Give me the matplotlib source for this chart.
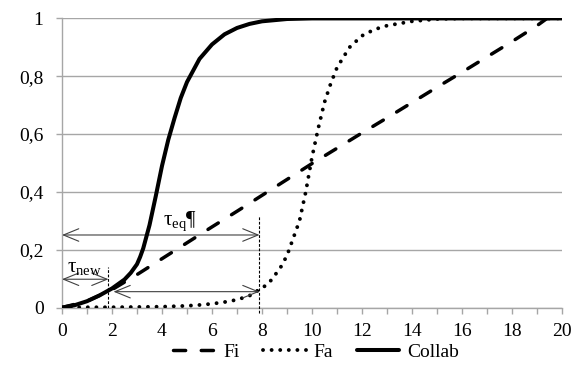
import matplotlib
matplotlib.use("Agg")
import matplotlib.pyplot as plt
from matplotlib.ticker import FuncFormatter, MultipleLocator

plt.rcParams["font.family"] = ["Liberation Serif", "DejaVu Serif"]
plt.rcParams["mathtext.fontset"] = "custom"
plt.rcParams["mathtext.rm"] = "Liberation Serif"
plt.rcParams["mathtext.it"] = "Liberation Serif"

# values
fi_t = [0, 1, 2, 3, 4, 5, 6, 7, 8, 9, 10, 11, 12, 13, 14, 15, 16, 17, 18, 19, 19.4, 20]
fi = [0, 0.022, 0.062, 0.114, 0.169, 0.224, 0.279, 0.333, 0.388, 0.443, 0.498,
      0.551, 0.604, 0.656, 0.709, 0.762, 0.814, 0.867, 0.92, 0.975, 1.0, 1.0]

fa_t = [0, 1, 2, 3, 4, 5, 5.5, 6, 6.5, 7, 7.5, 8, 8.25, 8.5, 8.75, 9, 9.25, 9.5,
        9.75, 10, 10.25, 10.5, 10.75, 11, 11.5, 12, 12.5, 13, 14, 15, 16, 20]
fa = [0, 0.001, 0.001, 0.002, 0.003, 0.006, 0.009, 0.013, 0.019, 0.027, 0.041,
      0.068, 0.082, 0.11, 0.14, 0.18, 0.24, 0.30, 0.40, 0.52, 0.62, 0.71, 0.775,
      0.83, 0.9, 0.94, 0.962, 0.975, 0.99, 0.998, 1.0, 1.0]

collab_t = [0, 0.5, 1, 1.5, 2, 2.5, 2.75, 3, 3.125, 3.25, 3.5, 3.75, 4, 4.25, 4.5,
            4.75, 5, 5.5, 6, 6.5, 7, 7.5, 8, 9, 10, 20]
collab = [0, 0.008, 0.022, 0.042, 0.066, 0.097, 0.12, 0.15, 0.175, 0.205, 0.285,
          0.385, 0.49, 0.58, 0.655, 0.725, 0.78, 0.86, 0.91, 0.945, 0.967, 0.981,
          0.99, 0.998, 1.0, 1.0]

# annotation anchors
t_new = 1.86
t_eq = 7.9
y_eq_arrow = 0.251
y_new_arrow = 0.098
y_low_arrow = 0.055
low_arrow_start = 2.06

grid_col = "#a6a6a6"
arrow_col = "#404040"

fig = plt.figure(figsize=(5.73, 3.76), dpi=100)
ax = fig.add_axes([0.1082, 0.182, 0.8726, 0.769])

ax.plot(fi_t, fi, color="black", lw=2.5, dashes=(3.5, 4.5),
        dash_capstyle="round", label="Fi", zorder=3)
ax.plot(fa_t, fa, color="black", lw=2.8, dashes=(0.01, 2.2),
        dash_capstyle="round", label="Fa", zorder=3)
ax.plot(collab_t, collab, color="black", lw=2.9, solid_capstyle="round",
        label="Collab", zorder=4)

# vertical markers
ax.plot([t_new, t_new], [0, 0.14], color="black", lw=0.8, dashes=(2.5, 1.5), zorder=5)
ax.plot([t_eq, t_eq], [-0.02, 0.315], color="black", lw=0.8, dashes=(2.5, 1.5),
        zorder=5, clip_on=False)

arrow = dict(arrowstyle="<->,head_length=1.1,head_width=0.45", color=arrow_col,
             lw=0.8, shrinkA=0, shrinkB=0)
ax.annotate("", xy=(0, y_eq_arrow), xytext=(t_eq, y_eq_arrow), arrowprops=arrow)
ax.annotate("", xy=(0, y_new_arrow), xytext=(t_new, y_new_arrow), arrowprops=arrow)
ax.annotate("", xy=(low_arrow_start, y_low_arrow), xytext=(t_eq, y_low_arrow),
            arrowprops=arrow)

ax.text(4.73, 0.30, r"$\mathregular{\tau_{eq}}$¶", fontsize=15, ha="center",
        va="center", zorder=6)
ax.text(0.22, 0.14, r"$\mathregular{\tau_{new}}$", fontsize=15, ha="left",
        va="center", zorder=6)

ax.set_xlim(0, 20)
ax.set_ylim(0, 1)
ax.xaxis.set_major_locator(MultipleLocator(1))
ax.xaxis.set_major_formatter(FuncFormatter(
    lambda v, p: f"{int(round(v))}" if int(round(v)) % 2 == 0 else ""))
ax.yaxis.set_major_locator(MultipleLocator(0.2))
ax.yaxis.set_major_formatter(FuncFormatter(
    lambda v, p: "0" if abs(v) < 1e-9 else ("1" if abs(v - 1) < 1e-9
                                            else f"{v:.1f}".replace(".", ","))))

ax.grid(axis="y", color=grid_col, lw=1)
ax.set_axisbelow(True)
for s in ["top", "right"]:
    ax.spines[s].set_visible(False)
for s in ["left", "bottom"]:
    ax.spines[s].set_color(grid_col)
    ax.spines[s].set_linewidth(1)
ax.tick_params(axis="both", direction="out", length=4.3, width=1, color=grid_col,
               labelsize=14)
ax.tick_params(axis="y", pad=9)
ax.tick_params(axis="x", pad=7)

ax.legend(loc="center", bbox_to_anchor=(0.508, -0.155), ncol=3, frameon=False,
          fontsize=14, handlelength=2.2, handletextpad=0.4, columnspacing=1.2)

fig.savefig("out.png", dpi=100)
